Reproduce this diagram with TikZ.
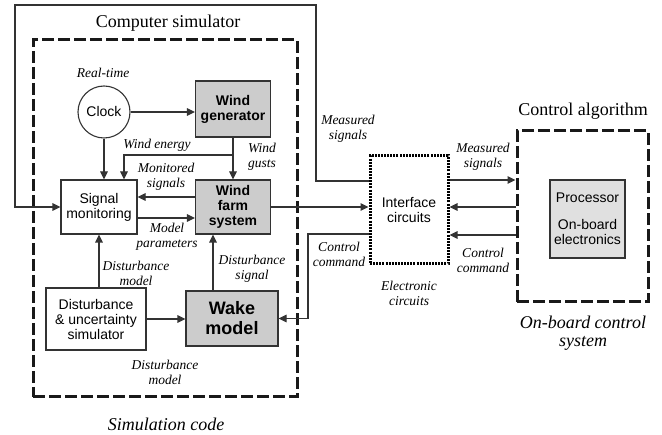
\documentclass[tikz,border=0pt]{standalone}
\usepackage{fontspec}
\setmainfont{Liberation Serif}
\setsansfont{Liberation Sans}
\usetikzlibrary{arrows.meta}

\begin{document}
\begin{tikzpicture}[x=1pt,y=-1pt,
  conn/.style={draw=black!80, line width=1.1pt},
  arr/.style={conn, -{Triangle[length=8pt,width=7.5pt]}},
  box/.style={draw=black!80, line width=1.1pt, align=center, inner sep=0pt,
    font=\sffamily\fontsize{14}{15}\selectfont},
  gbox/.style={box, fill=black!20, font=\sffamily\bfseries\fontsize{14}{15}\selectfont},
  lab/.style={font=\itshape\fontsize{13.5}{15}\selectfont, align=center, inner sep=0pt},
  title/.style={font=\fontsize{18}{18}\selectfont, align=center, inner sep=0pt},
  bigdash/.style={draw=black!90, line width=3pt, dash pattern=on 12pt off 4pt, inner sep=0pt},
  dotbox/.style={draw=black, line width=3pt, dash pattern=on 2pt off 1.1pt, inner sep=0pt},
]
\useasboundingbox (0,0) rectangle (662,435);

% enclosing boxes
\node[bigdash, minimum width=264pt, minimum height=357pt] (sim) at (165,218.5) {};
\node[bigdash, minimum width=131pt, minimum height=171pt] (ctrl) at (582.5,216.5) {};
\node[dotbox, minimum width=78pt, minimum height=108pt, align=center,
      font=\sffamily\fontsize{14}{15}\selectfont] (iface) at (409,210) {Interface\\circuits};

% blocks of the simulator
\node[box, circle, minimum size=52pt] (clock) at (104,112) {Clock};
\node[gbox, minimum width=75pt, minimum height=56pt] (wg) at (233,109) {Wind\\generator};
\node[gbox, minimum width=75pt, minimum height=54pt] (wf) at (233,207) {Wind\\farm\\system};
\node[box, minimum width=76pt, minimum height=54pt] (sm) at (99,207) {Signal\\monitoring};
\node[box, minimum width=100pt, minimum height=62pt] (dist) at (96,319) {Disturbance\\\& uncertainty\\simulator};
\node[gbox, minimum width=92pt, minimum height=55pt, font=\sffamily\bfseries\fontsize{18}{20}\selectfont] (wake) at (232,318.5) {Wake\\model};
\node[box, fill=black!12, minimum width=75pt, minimum height=78pt] (proc) at (587.5,219)
  {Processor\\[12pt]On-board\\electronics};

% titles
\node[title] (tsim) at (168,23) {Computer simulator};
\node[title, font=\itshape\fontsize{18}{18}\selectfont] (tcode) at (166,424) {Simulation code};
\node[title] (tctrl) at (583,111) {Control algorithm};
\node[title, font=\itshape\fontsize{18}{18}\selectfont] (tobc) at (583,333) {On-board control\\system};

% connector labels
\node[lab] (lrt) at (103,73) {Real-time};
\node[lab] (lwe) at (157,145) {Wind energy};
\node[lab] (lwg) at (262,157) {Wind\\gusts};
\node[lab] (lms) at (166,177) {Monitored\\signals};
\node[lab] (lmp) at (167,237) {Model\\parameters};
\node[lab] (ldm1) at (136,273) {Disturbance\\model};
\node[lab] (lds) at (252,269) {Disturbance\\signal};
\node[lab] (ldm2) at (165,372) {Disturbance\\model};
\node[lab] (lcc1) at (339,254) {Control\\command};
\node[lab] (lms1) at (348,129) {Measured\\signals};
\node[lab] (lms2) at (483,157) {Measured\\signals};
\node[lab] (lcc2) at (483,260) {Control\\command};
\node[lab] (lec) at (409,293) {Electronic\\circuits};

% helper points
\coordinate (we) at (233,155);
\coordinate (fbA) at (316,5);
\coordinate (fbB) at (15,5);
\coordinate (cc) at (308,0);

% connectors inside the simulator
\draw[arr] (clock.east) -- (clock.east -| wg.west);
\draw[arr] (wg.south) -- (wf.north);
\draw[arr] (we) -| ([xshift=25pt]sm.north);
\draw[arr] (clock.south) -- (clock.south |- sm.north);
\draw[arr] ([yshift=10pt]wf.west) -- ([yshift=10pt]sm.east);
\draw[arr] ([yshift=-11pt]sm.east) -- ([yshift=-11pt]wf.west);
\draw[arr] (sm.south |- dist.north) -- (sm.south);
\draw[arr] (dist.east) -- (dist.east -| wake.west);
\draw[arr] ([xshift=-20pt]wf.south |- wake.north) -- ([xshift=-20pt]wf.south);

% links to the interface and control system
\draw[arr] (wf.east) -- (wf.east -| iface.west);
\draw[arr] ([yshift=-24pt]iface.west) -| (cc |- wake.east) -- (wake.east);
\draw[arr] ([yshift=29pt]iface.west) -| (fbA) -- (fbB) |- (sm.west);
\draw[arr] ([yshift=30pt]iface.east) -- ([yshift=30pt]iface.east -| ctrl.west);
\draw[arr] ([yshift=3pt]iface.east -| ctrl.west) -- ([yshift=3pt]iface.east);
\draw[arr] ([yshift=-25pt]iface.east -| ctrl.west) -- ([yshift=-25pt]iface.east);
\end{tikzpicture}
\end{document}
